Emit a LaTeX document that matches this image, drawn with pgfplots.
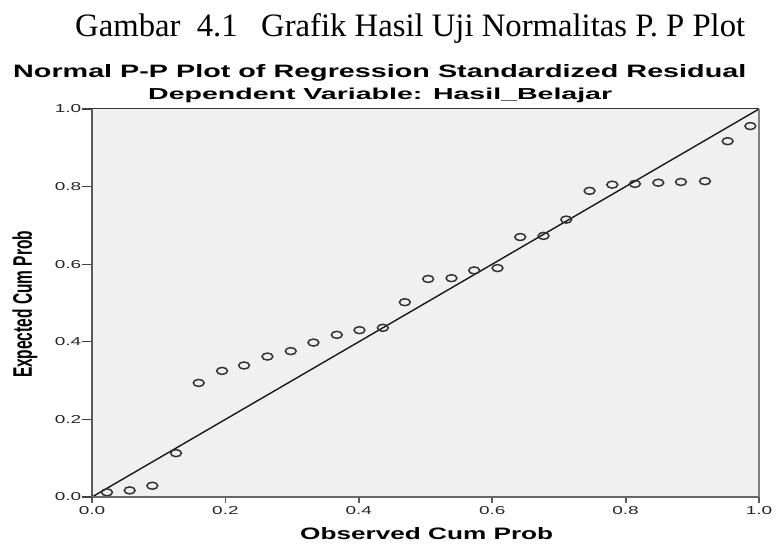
\documentclass[border=0pt]{standalone}
\usepackage{fontspec}
\setmainfont{Liberation Serif}
\newfontfamily\arial{Liberation Sans}
\usepackage{graphicx}
\usepackage{pgfplots}
\pgfplotsset{compat=1.18}
\definecolor{bg}{HTML}{F0F0F0}
\pgfplotstableread{
x y
0.0225 0.012
0.0565 0.017
0.0904 0.029
0.126 0.113
0.160 0.294
0.195 0.325
0.228 0.339
0.263 0.362
0.298 0.376
0.332 0.398
0.367 0.418
0.401 0.430
0.436 0.436
0.469 0.502
0.504 0.562
0.539 0.564
0.573 0.584
0.608 0.590
0.642 0.670
0.677 0.673
0.711 0.715
0.746 0.789
0.780 0.805
0.814 0.807
0.849 0.810
0.883 0.812
0.919 0.814
0.953 0.917
0.987 0.956
}\pts
\begin{document}
\begin{tikzpicture}[x=1bp,y=1bp]
\useasboundingbox (0bp,0bp) rectangle (779bp,544bp);
\begin{axis}[name=ax, at={(92bp,47bp)}, anchor=south west, scale only axis,
  width=667bp, height=388bp, xmin=0, xmax=1, ymin=0, ymax=1,
  axis background/.style={fill=bg}, axis line style={draw=none},
  clip=false,
  xtick={0,0.2,0.4,0.6,0.8,1}, ytick={0,0.2,0.4,0.6,0.8,1},
  tick align=outside, major tick length=8bp,
  xtick pos=bottom, ytick pos=left,
  x tick style={color=black!65, line width=1.8bp, /pgfplots/major tick length=6bp},
  y tick style={color=black!75, line width=1.2bp, /pgfplots/major tick length=10bp},
  ticklabel style={font=\arial\fontsize{11.5bp}{11.5bp}\selectfont, xscale=1.65, text=black!85, inner sep=1.5bp},
  /pgf/number format/.cd, fixed, fixed zerofill, precision=1, assume math mode=true]
\addplot[black!90, line width=1.4bp, no marks] coordinates {(0,0) (1,1)};
\addplot[only marks, mark=o, mark size=3.5bp, mark options={xscale=1.55, line width=1.5bp, draw=black!80}] table[x=x,y=y] {\pts};
\end{axis}
\draw[black!80, line width=1bp] (ax.north west) -- (ax.north east);
\draw[black!65, line width=2.6bp] (ax.south west) -- (ax.north west);
\draw[black!50, line width=2.6bp] (ax.south east) -- (ax.north east);
\draw[black!60, line width=2bp] (ax.south west) -- (ax.south east);
\node[anchor=base west, inner sep=0] at (75bp,507bp) {\resizebox{670bp}{!}{\fontsize{32bp}{32bp}\selectfont Gambar\hspace{16bp}4.1\hspace{23bp}Grafik Hasil Uji Normalitas P. P Plot}};
\node[anchor=base west, inner sep=0] at (13bp,466bp) {\resizebox{733bp}{13bp}{\arial\bfseries Normal P-P Plot of Regression Standardized Residual}};
\node[anchor=base west, inner sep=0] at (148bp,444bp) {\resizebox{464bp}{11.5bp}{\arial\bfseries Dependent Variable: Hasil\_Belajar}};
\node[anchor=base west, inner sep=0] at (300bp,4bp) {\resizebox{253bp}{12bp}{\arial\bfseries Observed Cum Prob}};
\node[anchor=center, inner sep=0] at (25bp,239.5bp) {\resizebox{25bp}{147bp}{\rotatebox{90}{\arial\bfseries Expected Cum Prob}}};
\end{tikzpicture}
\end{document}
